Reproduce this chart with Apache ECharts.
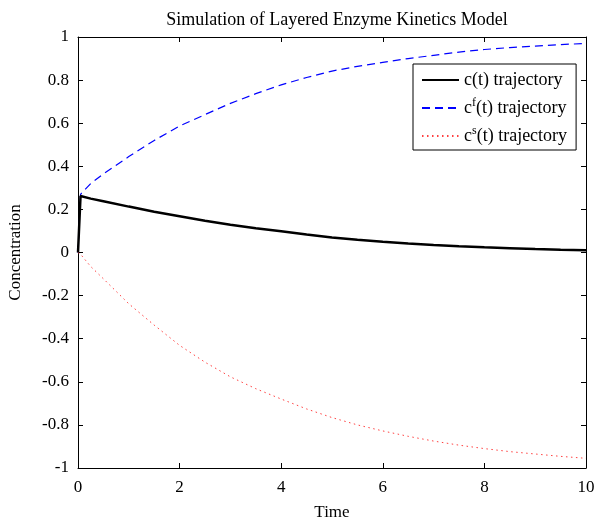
<!DOCTYPE html>
<html>
<head>
<meta charset="utf-8">
<script src="https://cdn.jsdelivr.net/npm/echarts@6/dist/echarts.min.js"></script>
<style>
  html, body { margin: 0; padding: 0; background: #fff; }
  #main { width: 596px; height: 519px; }
</style>
</head>
<body>
<div id="main"></div>
<script>
// values
var times = [0, 0.05, 0.25, 0.5, 1, 1.5, 2, 2.5, 3, 3.5, 4, 4.5, 5, 5.5, 6, 6.5, 7, 7.5, 8, 8.5, 9, 9.5, 10];
var cVals = [0, 0.262, 0.25, 0.238, 0.213, 0.189, 0.168, 0.147, 0.129, 0.113, 0.099, 0.083, 0.07, 0.059, 0.05, 0.042, 0.035, 0.029, 0.024, 0.02, 0.016, 0.013, 0.011];
var cfVals = [0, 0.27, 0.32, 0.365, 0.445, 0.52, 0.587, 0.64, 0.692, 0.737, 0.778, 0.812, 0.842, 0.864, 0.882, 0.9, 0.915, 0.93, 0.942, 0.951, 0.958, 0.965, 0.97];
var csVals = [0, -0.008, -0.065, -0.122, -0.238, -0.337, -0.431, -0.509, -0.577, -0.632, -0.68, -0.726, -0.766, -0.8, -0.828, -0.853, -0.875, -0.894, -0.91, -0.924, -0.935, -0.946, -0.955];
var seriesNames = ['c(t) trajectory', 'cf(t) trajectory', 'cs(t) trajectory'];

function pairs(ys) {
    var out = [];
    for (var i = 0; i < times.length; i++) {
        out.push([times[i], ys[i]]);
    }
    return out;
}

var font = '"Liberation Serif", "DejaVu Serif", serif';

var myChart = echarts.init(document.getElementById('main'));

var axisCommon = {
    axisLine: { show: true, onZero: false, lineStyle: { color: '#000', width: 1 } },
    axisTick: { show: true, inside: true, length: 5, lineStyle: { color: '#000', width: 1 } },
    splitLine: { show: false }
};

var option = {
    animation: false,
    backgroundColor: '#fff',
    textStyle: { fontFamily: font, color: '#000' },
    title: {
        text: 'Simulation of Layered Enzyme Kinetics Model',
        left: 332,
        textAlign: 'center',
        top: 6,
        textStyle: { fontFamily: font, fontSize: 18, fontWeight: 'normal', color: '#000' }
    },
    grid: { left: 78, top: 37, right: 10, bottom: 51, outerBoundsMode: 'none', containLabel: false },
    legend: {
        orient: 'vertical',
        left: 413,
        top: 64,
        itemWidth: 37,
        itemHeight: 10,
        itemGap: 8,
        padding: [7, 9, 5, 8],
        borderColor: '#000',
        borderWidth: 1,
        borderRadius: 0,
        backgroundColor: '#fff',
        itemStyle: { opacity: 0 },
        data: seriesNames,
        formatter: function (name) {
            if (name === seriesNames[1]) return '{a|c}{s|f}{a|(t) trajectory}';
            if (name === seriesNames[2]) return '{a|c}{s|s}{a|(t) trajectory}';
            return '{a|c(t) trajectory}';
        },
        textStyle: {
            fontFamily: font,
            color: '#000',
            rich: {
                a: { fontFamily: font, fontSize: 18, color: '#000', height: 21 },
                s: { fontFamily: font, fontSize: 12, color: '#000', padding: [0, 0, 10, 0] }
            }
        }
    },
    xAxis: [
        Object.assign({
            type: 'value', min: 0, max: 10, interval: 2, position: 'bottom',
            name: 'Time', nameLocation: 'middle', nameGap: 36,
            nameTextStyle: { fontFamily: font, fontSize: 17, color: '#000' },
            axisLabel: { fontFamily: font, fontSize: 17, color: '#000', margin: 11 }
        }, axisCommon),
        Object.assign({
            type: 'value', min: 0, max: 10, interval: 2, position: 'top',
            axisLabel: { show: false }
        }, axisCommon)
    ],
    yAxis: [
        Object.assign({
            type: 'value', min: -1, max: 1, interval: 0.2, position: 'left',
            name: 'Concentration', nameLocation: 'middle', nameGap: 54,
            nameTextStyle: { fontFamily: font, fontSize: 17, color: '#000' },
            axisLabel: {
                fontFamily: font, fontSize: 17, color: '#000', margin: 9,
                formatter: function (v) { return String(Math.round(v * 10) / 10); }
            }
        }, axisCommon),
        Object.assign({
            type: 'value', min: -1, max: 1, interval: 0.2, position: 'right',
            axisLabel: { show: false }
        }, axisCommon)
    ],
    series: [
        {
            name: seriesNames[0], type: 'line', data: pairs(cVals),
            symbol: 'none', smooth: false,
            lineStyle: { color: '#000', width: 2.5, type: 'solid' },
            itemStyle: { color: '#000' }, z: 3
        },
        {
            name: seriesNames[1], type: 'line', data: pairs(cfVals),
            symbol: 'none', smooth: false,
            lineStyle: { color: '#0000ff', width: 1.2, type: [8, 5] },
            itemStyle: { color: '#0000ff' }, z: 2
        },
        {
            name: seriesNames[2], type: 'line', data: pairs(csVals),
            symbol: 'none', smooth: false,
            lineStyle: { color: '#ff4040', width: 1, type: [1.5, 3.5] },
            itemStyle: { color: '#ff4040' }, z: 2
        }
    ]
};

myChart.setOption(option);
</script>
</body>
</html>
